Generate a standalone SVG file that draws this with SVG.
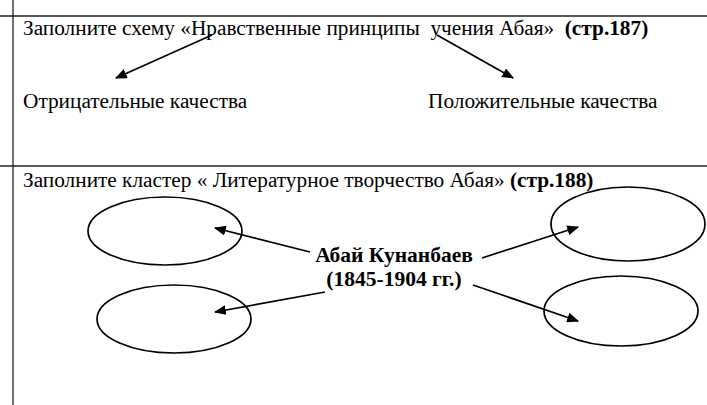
<svg xmlns="http://www.w3.org/2000/svg" width="707" height="405" viewBox="0 0 707 405">
<defs>
<style>
.t{font-family:"Liberation Serif","Times New Roman",serif;font-size:21.3px;fill:#000}
.b{font-weight:bold}
.c{font-size:21.5px}
.rule{stroke:#222;stroke-width:1.3;fill:none}
.ell{fill:none;stroke:#000;stroke-width:1.7}
.con{stroke:#000;stroke-width:1.7;fill:none;marker-end:url(#ah)}
</style>
<marker id="ah" viewBox="0 0 10 10" refX="9" refY="5" markerWidth="12" markerHeight="10" markerUnits="userSpaceOnUse" orient="auto" preserveAspectRatio="none">
<path d="M0,0 L10,5 L0,10 z" fill="#000"/>
</marker>
</defs>
<rect width="707" height="405" fill="#fff"/>
<g id="frame">
<line class="rule" x1="13" y1="0" x2="13" y2="405"/>
<line class="rule" x1="0" y1="16" x2="707" y2="16"/>
<line class="rule" x1="0" y1="166" x2="707" y2="166"/>
</g>
<g id="title1"><text class="t" x="23" y="35" xml:space="preserve">Заполните схему «Нравственные принципы  учения Абая»  <tspan class="b">(стр.187)</tspan></text></g>
<g id="neg"><text class="t" x="23" y="108">Отрицательные качества</text></g>
<g id="pos"><text class="t" x="428" y="108">Положительные качества</text></g>
<g id="title2"><text class="t" x="23" y="187">Заполните кластер « Литературное творчество Абая» <tspan class="b">(стр.188)</tspan></text></g>
<g id="center"><text class="t b c" x="394" y="262" text-anchor="middle">Абай Кунанбаев</text><text class="t b c" x="394" y="286" text-anchor="middle">(1845-1904 гг.)</text></g>
<g id="e1"><ellipse class="ell" cx="165" cy="231" rx="77" ry="34"/></g>
<g id="e2"><ellipse class="ell" cx="628" cy="224" rx="77" ry="37"/></g>
<g id="e3"><ellipse class="ell" cx="174" cy="319" rx="77" ry="34"/></g>
<g id="e4"><ellipse class="ell" cx="621" cy="311" rx="77" ry="35"/></g>
<g id="connectors">
<line class="con" x1="212" y1="35" x2="116" y2="78"/>
<line class="con" x1="437" y1="35" x2="513" y2="78"/>
<line class="con" x1="310" y1="252" x2="215" y2="228"/>
<line class="con" x1="482" y1="258" x2="578" y2="227"/>
<line class="con" x1="325" y1="292" x2="215" y2="312"/>
<line class="con" x1="473" y1="285" x2="578" y2="321"/>
</g>
</svg>
